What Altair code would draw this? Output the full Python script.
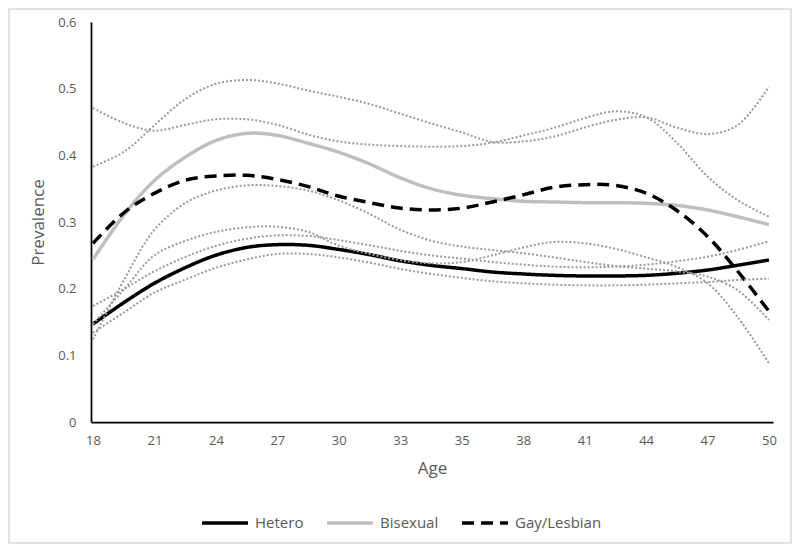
import altair as alt
import pandas as pd

AGES = [18.0, 19.5, 20.9, 22.4, 23.8, 25.3, 26.7, 28.2, 29.6, 31.1, 32.5, 34.0,
        35.5, 36.9, 38.4, 39.8, 41.3, 42.7, 44.2, 45.6, 47.1, 48.5, 50.0]

# Main series
HETERO = [0.147, 0.180, 0.208, 0.232, 0.250, 0.262, 0.266, 0.265, 0.259, 0.251, 0.242, 0.235,
          0.230, 0.225, 0.222, 0.220, 0.219, 0.219, 0.220, 0.223, 0.228, 0.235, 0.243]
BISEXUAL = [0.244, 0.312, 0.362, 0.398, 0.422, 0.433, 0.430, 0.418, 0.405, 0.387, 0.367, 0.350,
            0.340, 0.335, 0.331, 0.330, 0.329, 0.329, 0.328, 0.325, 0.318, 0.308, 0.296]
GAY = [0.268, 0.315, 0.343, 0.363, 0.369, 0.370, 0.364, 0.353, 0.339, 0.329, 0.321, 0.318,
       0.321, 0.330, 0.341, 0.352, 0.356, 0.355, 0.343, 0.318, 0.278, 0.227, 0.166]

# Confidence bounds (dotted)
BI_UP = [0.383, 0.406, 0.445, 0.485, 0.507, 0.513, 0.508, 0.497, 0.488, 0.477, 0.463, 0.448,
         0.434, 0.420, 0.421, 0.428, 0.442, 0.453, 0.457, 0.442, 0.432, 0.445, 0.503]
GAY_UP = [0.471, 0.448, 0.437, 0.446, 0.454, 0.454, 0.446, 0.431, 0.421, 0.416, 0.414, 0.413,
          0.414, 0.419, 0.430, 0.441, 0.456, 0.466, 0.457, 0.420, 0.368, 0.333, 0.308]
BI_LO = [0.124, 0.215, 0.288, 0.329, 0.347, 0.355, 0.354, 0.347, 0.333, 0.312, 0.289, 0.272,
         0.263, 0.258, 0.253, 0.247, 0.240, 0.234, 0.230, 0.226, 0.218, 0.198, 0.153]
GAY_LO = [0.147, 0.200, 0.250, 0.272, 0.285, 0.292, 0.293, 0.285, 0.265, 0.252, 0.243, 0.238,
          0.240, 0.250, 0.262, 0.270, 0.268, 0.260, 0.247, 0.233, 0.208, 0.158, 0.088]
HET_UP = [0.174, 0.200, 0.226, 0.248, 0.264, 0.275, 0.280, 0.279, 0.273, 0.265, 0.257, 0.250,
          0.245, 0.240, 0.236, 0.233, 0.232, 0.233, 0.236, 0.241, 0.248, 0.258, 0.271]
HET_LO = [0.134, 0.165, 0.194, 0.214, 0.231, 0.244, 0.252, 0.252, 0.247, 0.239, 0.230, 0.222,
          0.216, 0.211, 0.208, 0.206, 0.205, 0.205, 0.206, 0.208, 0.210, 0.213, 0.215]

GROUPS = ["Hetero", "Bisexual", "Gay/Lesbian"]
X_TICKS = [18, 20.909, 23.818, 26.727, 29.636, 32.545, 35.455, 38.364, 41.273, 44.182, 47.091, 50]
Y_TICKS = [0, 0.1, 0.2, 0.3, 0.4, 0.5, 0.6]

main_rows = []
for g, vals in zip(GROUPS, [HETERO, BISEXUAL, GAY]):
    for a, v in zip(AGES, vals):
        main_rows.append({"age": a, "value": v, "group": g})
main_df = pd.DataFrame(main_rows)

ci_rows = []
for name, vals in [("bi_up", BI_UP), ("gay_up", GAY_UP), ("bi_lo", BI_LO),
                   ("gay_lo", GAY_LO), ("het_up", HET_UP), ("het_lo", HET_LO)]:
    for a, v in zip(AGES, vals):
        ci_rows.append({"age": a, "value": v, "band": name})
ci_df = pd.DataFrame(ci_rows)

FONT = "Open Sans"
TXT = "#595959"

x_scale = alt.Scale(domain=[17.905, 50.19], nice=False, zero=False)
y_scale = alt.Scale(domain=[0, 0.6], nice=False)

x_axis = alt.Axis(values=X_TICKS, labelExpr="format(datum.value, '.0f')", title="Age",
                  grid=False, ticks=False, labelPadding=12, titlePadding=13,
                  domainColor="black", domainWidth=1.75, labelFlush=False)
y_axis = alt.Axis(values=Y_TICKS, labelExpr="format(datum.value, '~g')", title="Prevalence",
                  grid=False, ticks=False, labelPadding=15, titlePadding=10,
                  domainColor="black", domainWidth=1.75)

legend = alt.Legend(title=None, orient="none", legendX=109, legendY=476,
                    direction="horizontal", symbolType="stroke", symbolSize=2116,
                    symbolStrokeWidth=3.5, labelFontSize=15, labelFont=FONT,
                    labelColor=TXT, labelOffset=5, columnPadding=16)

main = alt.Chart(main_df).mark_line(strokeWidth=3.5, interpolate="catmull-rom").encode(
    x=alt.X("age:Q", scale=x_scale, axis=x_axis),
    y=alt.Y("value:Q", scale=y_scale, axis=y_axis),
    color=alt.Color("group:N", scale=alt.Scale(domain=GROUPS, range=["black", "#BFBFBF", "black"]),
                    legend=legend),
    strokeDash=alt.StrokeDash("group:N", scale=alt.Scale(domain=GROUPS, range=[[1, 0], [1, 0], [12, 7]]),
                              legend=legend),
)

ci = alt.Chart(ci_df).mark_line(strokeWidth=2, strokeDash=[2, 2], color="#9A9A9A",
                                interpolate="catmull-rom").encode(
    x=alt.X("age:Q", scale=x_scale, axis=x_axis),
    y=alt.Y("value:Q", scale=y_scale, axis=y_axis),
    detail="band:N",
)

border = alt.Chart(pd.DataFrame({"k": [0]})).mark_rect(fillOpacity=0, stroke="#D9D9D9", strokeWidth=1.5).encode(
    x=alt.value(-82), x2=alt.value(700), y=alt.value(-13), y2=alt.value(521)
)

chart = alt.layer(main, ci, border).properties(
    width=682, height=400,
    autosize=alt.AutoSizeParams(type="none"),
    padding={"left": 83, "top": 14, "right": 19, "bottom": 122},
).configure_view(stroke=None).configure_axis(
    labelFont=FONT, labelFontSize=13, labelColor=TXT,
    titleFont=FONT, titleFontSize=17, titleColor=TXT, titleFontWeight="normal",
)

chart.save("out.html", embed_options={"renderer": "svg", "actions": False})
